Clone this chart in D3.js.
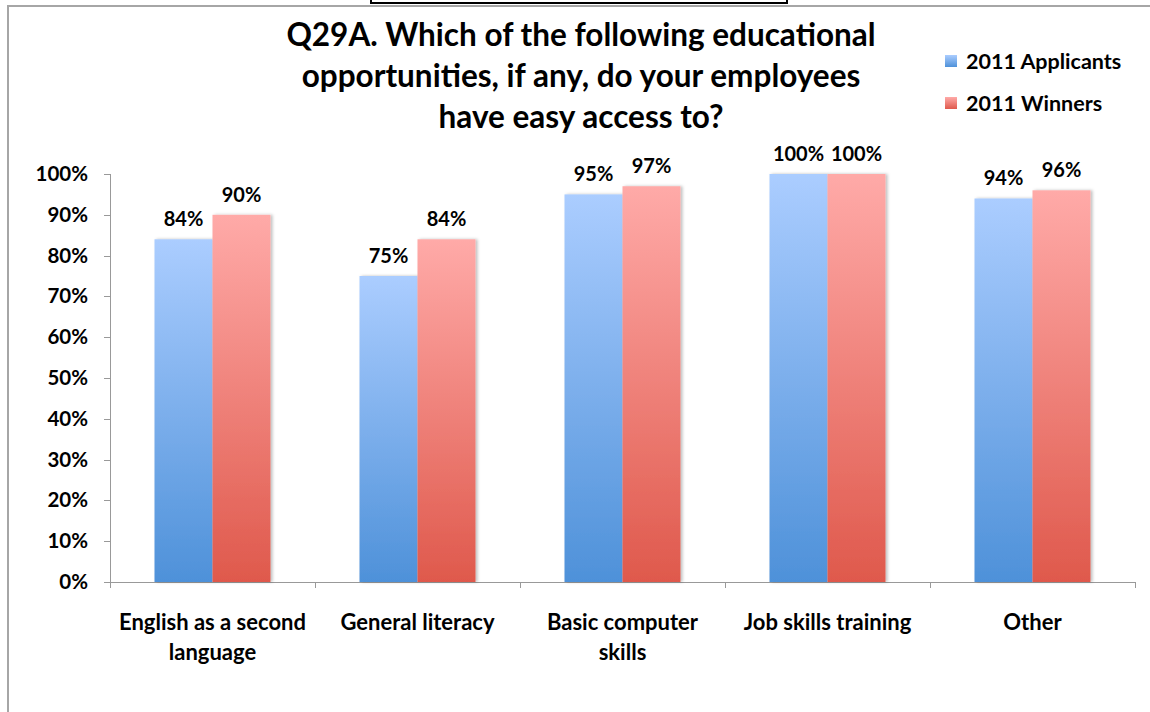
<!DOCTYPE html>
<html lang="en">
  <head>
    <meta charset="utf-8">
    <title>Q29A educational opportunities</title>
    <script src="https://d3js.org/d3.v7.min.js"></script>
    <style>
      body { margin: 0; background: #fff; }
      svg text { font-family: Lato, "Open Sans", sans-serif; font-weight: bold; fill: #000; }
      .axis path, .axis line { stroke: #999; shape-rendering: crispEdges; }
    </style>
  </head>
  <body>
    <script>
    // data
    const categories = ["English as a second language", "General literacy", "Basic computer skills", "Job skills training", "Other"];
    const seriesNames = ["2011 Applicants", "2011 Winners"];
    const applicants = [0.84, 0.75, 0.95, 1.00, 0.94];
    const winners = [0.90, 0.84, 0.97, 1.00, 0.96];
    const yTicks = [0, 0.1, 0.2, 0.3, 0.4, 0.5, 0.6, 0.7, 0.8, 0.9, 1.0];
    const titleLines = ["Q29A. Which of the following educational", "opportunities, if any, do your employees", "have easy access to?"];

    const w = 1150, h = 712;
    const svg = d3.select("body").append("svg").attr("width", w).attr("height", h);

    // gradients + shadow
    const defs = svg.append("defs");
    const grads = [["gBlue", "#abcdff", "#4e91d9"], ["gRed", "#ffaaa8", "#df594c"]];
    grads.forEach(g => {
      const lg = defs.append("linearGradient").attr("id", g[0])
        .attr("x1", 0).attr("y1", 0).attr("x2", 0).attr("y2", 1);
      lg.append("stop").attr("offset", "0%").attr("stop-color", g[1]);
      lg.append("stop").attr("offset", "100%").attr("stop-color", g[2]);
    });
    const sh = defs.append("filter").attr("id", "shadow").attr("x", "-10%").attr("width", "130%");
    sh.append("feDropShadow").attr("dx", 2).attr("dy", 0).attr("stdDeviation", 1.5)
      .attr("flood-color", "#000").attr("flood-opacity", 0.25);

    // frame bits
    svg.append("rect").attr("x", 371).attr("y", -4).attr("width", 416).attr("height", 7)
      .attr("fill", "none").attr("stroke", "#000").attr("stroke-width", 2);
    svg.append("path").attr("d", "M8,712 V6 H1150")
      .attr("fill", "none").attr("stroke", "#a6a6a6").attr("stroke-width", 2);

    // title
    svg.append("g").selectAll("text").data(titleLines).enter().append("text")
      .attr("x", 581).attr("y", (d, i) => 46 + i * 41)
      .attr("text-anchor", "middle").attr("font-size", "31.5px")
      .text(d => d);

    // scales
    const x = d3.scaleBand().domain(categories).range([110, 1135]);
    const groupW = 116;
    const xs = d3.scaleBand().domain(seriesNames).range([0, groupW]);
    const y = d3.scaleLinear().domain([0, 1]).range([582, 174]);
    const color = d3.scaleOrdinal().domain(seriesNames).range(["url(#gBlue)", "url(#gRed)"]);

    const rows = categories.map((c, i) => ({ cat: c, vals: [applicants[i], winners[i]] }));

    // y axis
    svg.append("g").attr("class", "axis")
      .attr("transform", "translate(110,0)")
      .call(d3.axisLeft(y).tickValues(yTicks).tickFormat(d3.format(".0%")).tickSize(6).tickPadding(16))
      .call(g => g.selectAll("text").attr("font-size", "20.5px").attr("font-family", "Lato, sans-serif")
        .attr("font-weight", "bold").attr("fill", "#000"));

    // x axis
    svg.append("g").attr("class", "axis")
      .attr("transform", "translate(0,582)")
      .call(d3.axisBottom(x).tickSize(0).tickFormat(""))
      .call(g => g.select(".domain").attr("d", "M110,0H1135"))
      .call(g => g.selectAll(".bound").data(d3.range(categories.length + 1)).enter()
        .append("line").attr("class", "bound")
        .attr("x1", i => 110 + i * x.bandwidth()).attr("x2", i => 110 + i * x.bandwidth())
        .attr("y1", 0).attr("y2", 6));

    // bars
    const groups = svg.append("g").selectAll("g").data(rows).enter().append("g")
      .attr("transform", d => "translate(" + (x(d.cat) + (x.bandwidth() - groupW) / 2) + ",0)");

    groups.selectAll("rect").data(d => d.vals.map((v, j) => ({ s: seriesNames[j], v: v })))
      .enter().append("rect")
      .attr("x", d => xs(d.s))
      .attr("y", d => y(d.v))
      .attr("width", xs.bandwidth())
      .attr("height", d => y(0) - y(d.v))
      .attr("fill", d => color(d.s))
      .attr("filter", "url(#shadow)");

    groups.selectAll("text").data(d => d.vals.map((v, j) => ({ s: seriesNames[j], v: v })))
      .enter().append("text")
      .attr("x", d => xs(d.s) + xs.bandwidth() / 2)
      .attr("y", d => y(d.v) - 13)
      .attr("text-anchor", "middle").attr("font-size", "20px")
      .text(d => d3.format(".0%")(d.v));

    // category labels, wrapped
    svg.append("g").selectAll("text").data(categories).enter().append("text")
      .attr("x", d => x(d) + x.bandwidth() / 2).attr("y", 630)
      .attr("text-anchor", "middle").attr("font-size", "22px")
      .each(function (d) {
        const t = d3.select(this);
        const words = d.split(" ");
        let line = [];
        let tspan = t.append("tspan").attr("x", t.attr("x")).attr("dy", 0);
        words.forEach(wd => {
          line.push(wd);
          tspan.text(line.join(" "));
          if (tspan.node().getComputedTextLength() > 200 && line.length > 1) {
            line.pop();
            tspan.text(line.join(" "));
            line = [wd];
            tspan = t.append("tspan").attr("x", t.attr("x")).attr("dy", 30).text(wd);
          }
        });
      });

    // legend
    const leg = svg.append("g").selectAll("g").data(seriesNames).enter().append("g")
      .attr("transform", (d, i) => "translate(945," + (55 + i * 42) + ")");
    leg.append("rect").attr("width", 12).attr("height", 12).attr("fill", d => color(d));
    leg.append("text").attr("x", 21).attr("y", 14).attr("font-size", "21.5px").text(d => d);
    </script>
  </body>
</html>
